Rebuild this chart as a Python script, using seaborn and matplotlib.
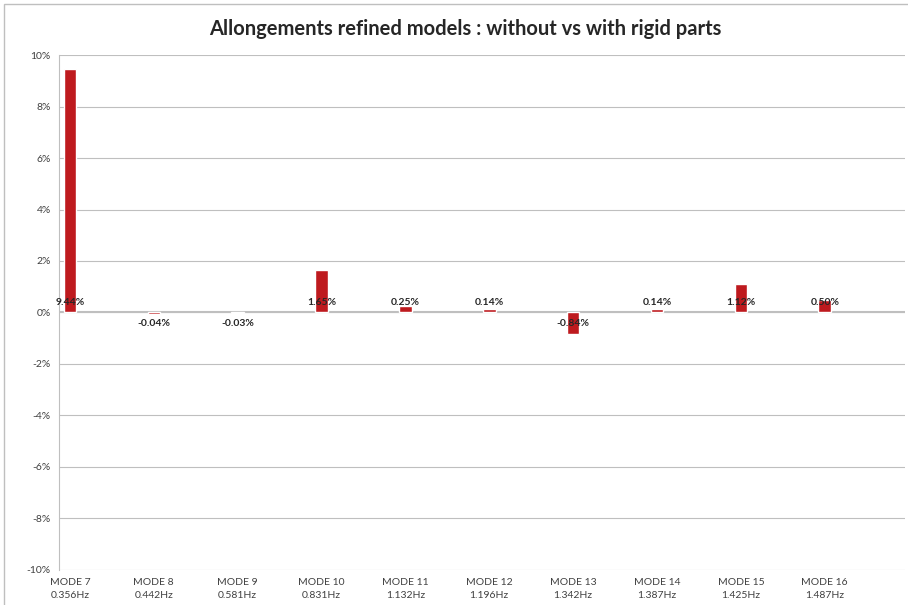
import matplotlib
matplotlib.use('Agg')
import matplotlib.pyplot as plt
import seaborn as sns
import pandas as pd
from matplotlib.patches import Rectangle

# Data
modes = ['MODE 7', 'MODE 8', 'MODE 9', 'MODE 10', 'MODE 11',
         'MODE 12', 'MODE 13', 'MODE 14', 'MODE 15', 'MODE 16']
freqs = ['0.356Hz', '0.442Hz', '0.581Hz', '0.831Hz', '1.132Hz',
         '1.196Hz', '1.342Hz', '1.387Hz', '1.425Hz', '1.487Hz']
values = [9.44, -0.04, -0.03, 1.65, 0.25, 0.14, -0.84, 0.14, 1.12, 0.50]

labels = [m + '\n' + f for m, f in zip(modes, freqs)]
df = pd.DataFrame({'mode': labels, 'value': values})

sns.set_style('white')
plt.rcParams['font.family'] = ['Lato', 'DejaVu Sans']

fig = plt.figure(figsize=(9.08, 6.05), dpi=100)
ax = fig.add_axes([0.065, 0.058, 0.932, 0.851])

sns.barplot(data=df, x='mode', y='value', color='#BE1A1E', width=0.15,
            saturation=1, ax=ax, zorder=3)

ax.set_ylim(-10, 10)
ax.set_xlim(-0.13, 9.96)
ax.set_yticks(range(-10, 11, 2))
ax.set_yticklabels([f'{v}%' for v in range(-10, 11, 2)], fontsize=7.5, color='#404040')
ax.yaxis.grid(True, color='#BFBFBF', linewidth=0.8, zorder=0)
ax.axhline(0, color='#BFBFBF', linewidth=1.5, zorder=2)
ax.tick_params(axis='both', length=0, pad=6)
ax.tick_params(axis='x', labelsize=7.5, labelcolor='#404040', pad=6)
for lab in ax.get_xticklabels():
    lab.set_horizontalalignment('center')
    lab.set_linespacing(1.55)
ax.set_xlabel('')
ax.set_ylabel('')
for side in ['top', 'right', 'bottom']:
    ax.spines[side].set_visible(False)
ax.spines['left'].set_color('#BFBFBF')
ax.spines['left'].set_linewidth(0.8)

# value labels near the zero line
for i, v in enumerate(values):
    y = 0.2 if v >= 0 else -0.25
    va = 'bottom' if v >= 0 else 'top'
    ax.text(i, y, f'{v:.2f}%', ha='center', va=va, fontsize=7.5,
            fontweight='bold', color='#262626', zorder=4)

fig.suptitle('Allongements refined models : without vs with rigid parts',
             x=0.512, y=0.968, fontsize=14.5, fontweight='bold', color='#262626')

# outer chart frame
fig.patches.append(Rectangle((0.004, -0.01), 1.2, 1.003, transform=fig.transFigure,
                             fill=False, edgecolor='#BFBFBF', linewidth=1))

fig.savefig('out.png', dpi=100)
